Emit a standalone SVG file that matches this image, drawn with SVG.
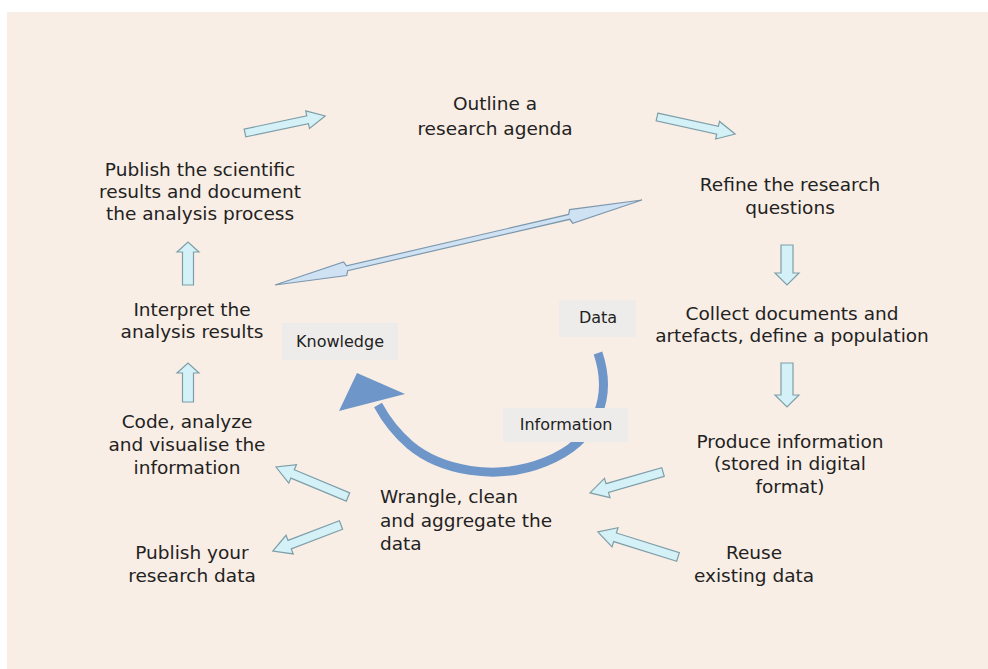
<svg xmlns="http://www.w3.org/2000/svg" width="988" height="669" viewBox="0 0 988 669">
<style>
.t{font-family:"DejaVu Sans","Liberation Sans",sans-serif;font-size:18.5px;fill:#222222;text-anchor:middle}
.l{text-anchor:start}
.s{font-size:16px}
.lbl{fill:#eeecea}
.blk{fill:#d4f1f7;stroke:#7e9ea8;stroke-width:1.2}
.dbl{fill:#cfe2f4;stroke:#7d98ad;stroke-width:1.2}
.arc{fill:none;stroke:#6e96c8;stroke-width:9}
.head{fill:#6e96c8}
</style>
<rect x="7" y="12" width="981" height="657" fill="#f9eee5"/>

<g id="connectors">
  <polygon class="blk" transform="translate(245,133) rotate(-12)" points="0,-4 64,-4 64,-9 82,0 64,9 64,4 0,4"/>
  <polygon class="blk" transform="translate(657,117) rotate(12.3)" points="0,-4 62,-4 62,-9 80,0 62,9 62,4 0,4"/>
  <polygon class="blk" transform="translate(787,245) rotate(90)" points="0,-6 28,-6 28,-12 40,0 28,12 28,6 0,6"/>
  <polygon class="blk" transform="translate(787,363) rotate(90)" points="0,-6 32,-6 32,-12 44,0 32,12 32,6 0,6"/>
  <polygon class="blk" transform="translate(188,285) rotate(-90)" points="0,-5.5 33,-5.5 33,-11 43,0 33,11 33,5.5 0,5.5"/>
  <polygon class="blk" transform="translate(188,402) rotate(-90)" points="0,-5.5 29,-5.5 29,-11 39,0 29,11 29,5.5 0,5.5"/>
  <polygon class="blk" transform="translate(663,472) rotate(164)" points="0,-4.5 58,-4.5 58,-10 76,0 58,10 58,4.5 0,4.5"/>
  <polygon class="blk" transform="translate(678,557) rotate(197.4)" points="0,-4.5 66,-4.5 66,-10 84,0 66,10 66,4.5 0,4.5"/>
  <polygon class="blk" transform="translate(348,497) rotate(202.6)" points="0,-4.5 60,-4.5 60,-10 78,0 60,10 60,4.5 0,4.5"/>
  <polygon class="blk" transform="translate(341,525) rotate(159.1)" points="0,-4.5 55,-4.5 55,-10 73,0 55,10 55,4.5 0,4.5"/>
  <polygon class="dbl" transform="translate(275,285) rotate(-13.04)" points="0,0 72,-7 74,-2.5 302,-2.5 304,-7 376.7,0 304,7 302,2.5 74,2.5 72,7"/>
  <path class="arc" d="M598,353 C612,395 600,440 545,462 C495,482 440,470 410,445 C395,432 385,418 378,405"/>
  <polygon class="head" points="357,373 339,411 405,394"/>
</g>

<g id="n-outline"><text class="t" x="495" y="110">Outline a</text><text class="t" x="495" y="135">research agenda</text></g>
<g id="n-refine"><text class="t" x="790" y="191">Refine the research</text><text class="t" x="790" y="214">questions</text></g>
<g id="n-collect"><text class="t" x="792" y="320">Collect documents and</text><text class="t" x="792" y="342">artefacts, define a population</text></g>
<g id="n-produce"><text class="t" x="790" y="448">Produce information</text><text class="t" x="790" y="470">(stored in digital</text><text class="t" x="790" y="493">format)</text></g>
<g id="n-reuse"><text class="t" x="754" y="559">Reuse</text><text class="t" x="754" y="582">existing data</text></g>
<g id="n-wrangle"><text class="t l" x="380" y="503">Wrangle, clean</text><text class="t l" x="380" y="527">and aggregate the</text><text class="t l" x="380" y="550">data</text></g>
<g id="n-publishdata"><text class="t" x="192" y="559">Publish your</text><text class="t" x="192" y="582">research data</text></g>
<g id="n-code"><text class="t" x="187" y="428">Code, analyze</text><text class="t" x="187" y="451">and visualise the</text><text class="t" x="187" y="474">information</text></g>
<g id="n-interpret"><text class="t" x="192" y="316">Interpret the</text><text class="t" x="192" y="338">analysis results</text></g>
<g id="n-publishsci"><text class="t" x="200" y="176">Publish the scientific</text><text class="t" x="200" y="198">results and document</text><text class="t" x="200" y="220">the analysis process</text></g>

<g id="n-data"><rect class="lbl" x="559" y="300" width="77" height="37"/><text class="t s" x="598" y="323">Data</text></g>
<g id="n-knowledge"><rect class="lbl" x="282" y="323" width="116" height="37"/><text class="t s" x="340" y="347">Knowledge</text></g>
<g id="n-information"><rect class="lbl" x="503" y="408" width="125" height="34"/><text class="t s" x="566" y="430">Information</text></g>
</svg>
